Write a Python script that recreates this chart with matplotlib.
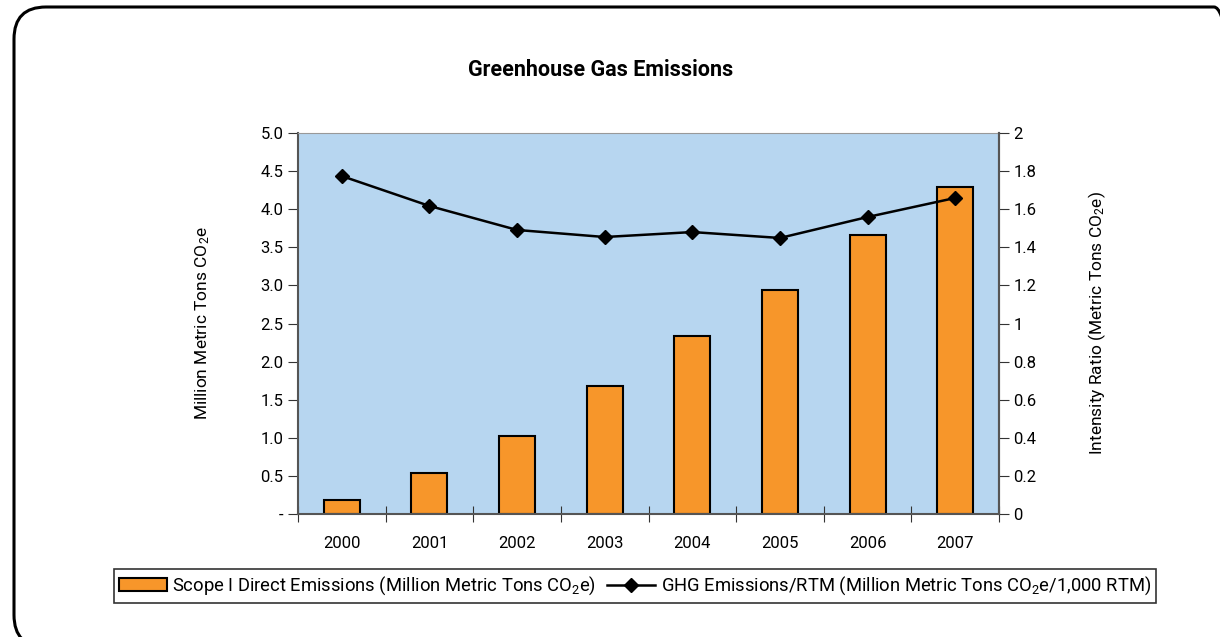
import matplotlib
matplotlib.use('Agg')
import matplotlib.pyplot as plt
from matplotlib.patches import FancyBboxPatch
from matplotlib.transforms import IdentityTransform
import numpy as np

# datos
years = ['2000', '2001', '2002', '2003', '2004', '2005', '2006', '2007']
scope1 = [0.18, 0.54, 1.02, 1.68, 2.34, 2.94, 3.66, 4.29]
intensity = [1.774, 1.617, 1.491, 1.454, 1.480, 1.449, 1.559, 1.659]

left_ticks = [0, 0.5, 1.0, 1.5, 2.0, 2.5, 3.0, 3.5, 4.0, 4.5, 5.0]
left_labels = ['-', '0.5', '1.0', '1.5', '2.0', '2.5', '3.0', '3.5', '4.0', '4.5', '5.0']
right_ticks = [0, 0.2, 0.4, 0.6, 0.8, 1, 1.2, 1.4, 1.6, 1.8, 2]
right_labels = ['0', '0.2', '0.4', '0.6', '0.8', '1', '1.2', '1.4', '1.6', '1.8', '2']

plt.rcParams['font.family'] = ['Roboto', 'DejaVu Sans']
plt.rcParams['mathtext.fontset'] = 'custom'
plt.rcParams['mathtext.rm'] = 'Roboto'
plt.rcParams['mathtext.it'] = 'Roboto'

fig = plt.figure(figsize=(12.2, 6.37), dpi=100)

# marco redondeado (en pixeles, se sale por la derecha y abajo)
marco = FancyBboxPatch((14, -10), 1232, 640,
                       boxstyle='round,pad=0,rounding_size=32',
                       transform=IdentityTransform(), fill=False,
                       edgecolor='black', linewidth=2.2)
fig.patches.append(marco)

ax = fig.add_axes([298 / 1220, 1 - 514 / 637, 701 / 1220, 381 / 637])
ax.set_facecolor('#B7D6F0')

x = np.arange(len(years))
barras = ax.bar(x, scope1, width=0.41, color='#F7962A', edgecolor='black',
                linewidth=1.5, zorder=2,
                label='Scope I Direct Emissions (Million Metric Tons CO$_2$e)')
ax.set_xlim(-0.5, len(years) - 0.5)
ax.set_ylim(0, 5)
ax.set_yticks(left_ticks)
ax.set_yticklabels(left_labels, fontsize=12)
ax.set_xticks(np.arange(-0.5, len(years), 1))
ax.set_xticklabels([])
ax.set_xticks(x, minor=True)
ax.set_xticklabels(years, minor=True, fontsize=12)
ax.tick_params(axis='x', which='minor', length=0, pad=16)
ax.tick_params(axis='x', which='major', direction='inout', length=12, color='#333333')
ax.tick_params(axis='y', direction='out', length=7, color='#333333')
ax.set_ylabel('Million Metric Tons CO$_2$e', fontsize=12.5, labelpad=35)
for s in ['left', 'bottom', 'right']:
    ax.spines[s].set_color('#555555')
    ax.spines[s].set_linewidth(1.5)
ax.spines['top'].set_color('#999999')

ax2 = ax.twinx()
linea, = ax2.plot(x, intensity, color='black', marker='D', markersize=7,
                  linewidth=1.8, zorder=3,
                  label='GHG Emissions/RTM (Million Metric Tons CO$_2$e/1,000 RTM)')
ax2.set_ylim(0, 2)
ax2.set_yticks(right_ticks)
ax2.set_yticklabels(right_labels, fontsize=12)
ax2.tick_params(axis='y', direction='out', length=7, color='#333333')
ax2.set_ylabel('Intensity Ratio (Metric Tons CO$_2$e)', fontsize=12.5, labelpad=36)
ax2.spines['right'].set_color('#555555')
ax2.spines['right'].set_linewidth(1.5)
for s in ['left', 'bottom', 'top']:
    ax2.spines[s].set_visible(False)

fig.text(601 / 1220, 1 - 70 / 637, 'Greenhouse Gas Emissions',
         ha='center', va='center', fontsize=15.5, fontweight='bold')

leg = fig.legend([barras, linea], [barras.get_label(), linea.get_label()],
                 ncol=2, loc='center', bbox_to_anchor=(635 / 1220, 1 - 586 / 637),
                 fontsize=13.2, frameon=True, fancybox=False, shadow=False,
                 handlelength=2.6, handletextpad=0.3, columnspacing=0.6,
                 borderpad=0.3, borderaxespad=0)
leg.get_frame().set_edgecolor('black')
leg.get_frame().set_linewidth(1.2)

fig.savefig('out.png', dpi=100)
